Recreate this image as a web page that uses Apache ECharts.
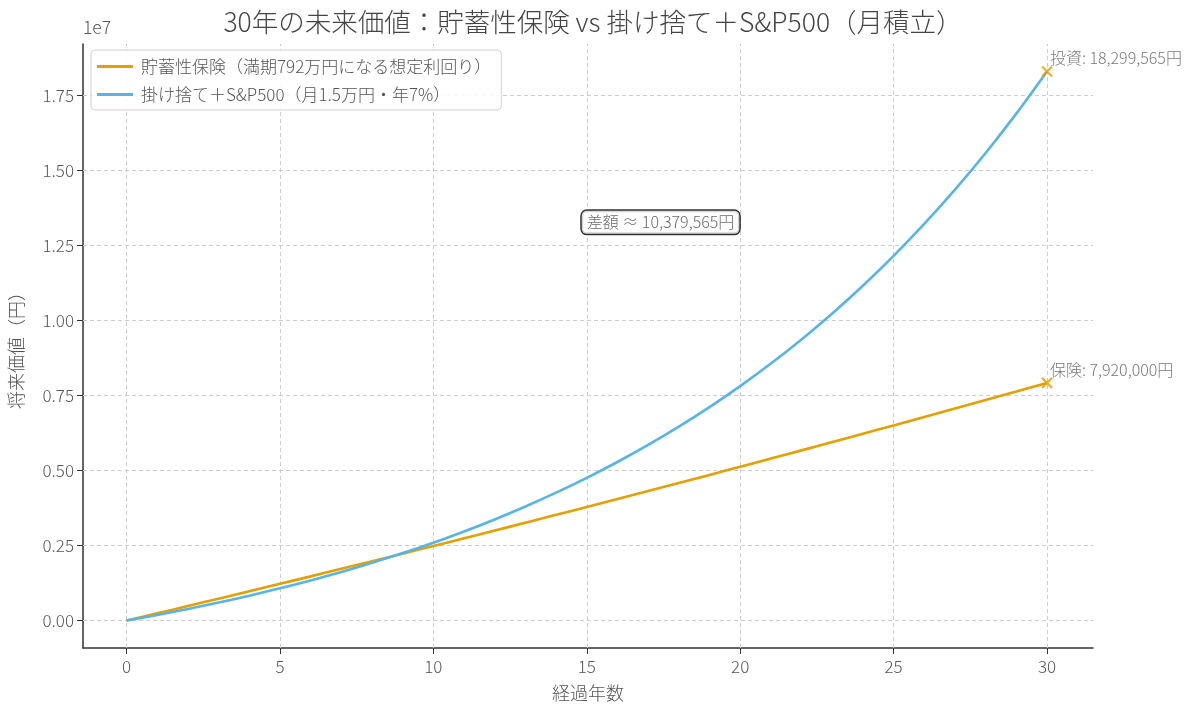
<!DOCTYPE html>
<html>
<head>
<meta charset="utf-8">
<script src="https://cdn.jsdelivr.net/npm/echarts@6/dist/echarts.min.js"></script>
<style>
  html, body { margin: 0; padding: 0; background: #fff; }
  #chart { width: 1200px; height: 715px; }
</style>
</head>
<body>
<div id="chart"></div>
<script>
// 経過年数 0..30
const years = [0, 1, 2, 3, 4, 5, 6, 7, 8, 9, 10, 11, 12, 13, 14, 15,
  16, 17, 18, 19, 20, 21, 22, 23, 24, 25, 26, 27, 28, 29, 30];

// 貯蓄性保険 (円)
const insurance = [0, 241500, 484600, 729200, 975300, 1223000, 1472300, 1723100,
  1975400, 2229300, 2484800, 2741800, 3000300, 3260400, 3522100, 3785300,
  4050000, 4316300, 4584200, 4853600, 5124500, 5397000, 5671100, 5946700,
  6223800, 6502500, 6782800, 7064600, 7347900, 7632800, 7920000];

// 掛け捨て＋S&P500 (円)
const invest = [0, 186000, 385000, 599000, 828000, 1074000, 1337000, 1620000,
  1923000, 2248000, 2596000, 2970000, 3370000, 3800000, 4261000, 4755000,
  5284000, 5852000, 6461000, 7114000, 7814000, 8565000, 9370000, 10234000,
  11159000, 12152000, 13216000, 14358000, 15582000, 16894000, 18299565];

const xTicks = [0, 5, 10, 15, 20, 25, 30];
const yTicks = [0, 2500000, 5000000, 7500000, 10000000, 12500000, 15000000, 17500000];

const endInvest = 18299565;
const endInsurance = 7920000;
const diffLabel = '差額 ≈ 10,379,565円';
const diffPos = [15, 13270000];

const ORANGE = '#E69F00';
const BLUE = '#56B4E9';
const FONT = '"Noto Sans CJK JP", "Noto Sans", sans-serif';
const W = 300;

const chart = echarts.init(document.getElementById('chart'));

const yMin = -endInvest * 0.05;
const yMax = endInvest * 1.05;

const gridLines = xTicks.map(v => ({ xAxis: v }))
  .concat(yTicks.map(v => ({ yAxis: v })));

const fmtYen = v => v.toLocaleString('en-US') + '円';

chart.setOption({
  animation: false,
  textStyle: { fontFamily: FONT, fontWeight: W },
  title: {
    text: '30年の未来価値：貯蓄性保険 vs 掛け捨て＋S&P500（月積立）',
    left: 588,
    top: 4,
    textAlign: 'center',
    textStyle: { fontSize: 26.5, fontWeight: W, color: '#444', fontFamily: FONT }
  },
  graphic: [{
    type: 'text',
    left: 83,
    top: 19,
    style: { text: '1e7', fontSize: 17.5, fill: '#555', fontFamily: FONT, fontWeight: W }
  }],
  legend: {
    orient: 'vertical',
    left: 91,
    top: 50,
    z: 20,
    padding: [8, 10, 7, 6],
    itemGap: 11,
    itemWidth: 36,
    itemHeight: 3,
    icon: 'rect',
    backgroundColor: 'rgba(255,255,255,0.85)',
    borderColor: '#d0d0d0',
    borderWidth: 1,
    borderRadius: 4,
    textStyle: { fontSize: 17, color: '#555', fontFamily: FONT, fontWeight: W, padding: [0, 0, 0, 3] },
    data: ['貯蓄性保険（満期792万円になる想定利回り）', '掛け捨て＋S&P500（月1.5万円・年7%）']
  },
  grid: { left: 83, right: 107, top: 44, bottom: 67, outerBoundsMode: 'none' },
  xAxis: {
    type: 'value',
    min: -1.42,
    max: 31.5,
    name: '経過年数',
    nameLocation: 'middle',
    nameGap: 36,
    nameTextStyle: { fontSize: 18, color: '#555', fontWeight: W },
    axisLine: { show: true, onZero: false, lineStyle: { color: '#333', width: 1.5 } },
    axisTick: { show: true, customValues: xTicks, length: 6, lineStyle: { color: '#333' } },
    axisLabel: { customValues: xTicks, fontSize: 17, color: '#555', margin: 10, fontWeight: W },
    splitLine: { show: false }
  },
  yAxis: {
    type: 'value',
    min: yMin,
    max: yMax,
    name: '将来価値（円）',
    nameLocation: 'middle',
    nameGap: 58,
    nameTextStyle: { fontSize: 18, color: '#555', fontWeight: W },
    axisLine: { show: true, onZero: false, lineStyle: { color: '#333', width: 1.5 } },
    axisTick: { show: true, customValues: yTicks, length: 6, lineStyle: { color: '#333' } },
    axisLabel: {
      customValues: yTicks,
      fontSize: 17,
      color: '#555',
      margin: 9,
      fontWeight: W,
      formatter: v => (v / 1e7).toFixed(2)
    },
    splitLine: { show: false }
  },
  series: [
    {
      name: 'grid',
      type: 'line',
      data: [],
      silent: true,
      z: 1,
      markLine: {
        silent: true,
        symbol: 'none',
        z: 1,
        label: { show: false },
        lineStyle: { type: [4, 3], color: '#cccccc', width: 1 },
        data: gridLines
      }
    },
    {
      name: '貯蓄性保険（満期792万円になる想定利回り）',
      type: 'line',
      data: years.map((y, i) => [y, insurance[i]]),
      showSymbol: false,
      symbol: 'none',
      smooth: 0.3,
      color: ORANGE,
      lineStyle: { color: ORANGE, width: 2.6 },
      z: 3
    },
    {
      name: '掛け捨て＋S&P500（月1.5万円・年7%）',
      type: 'line',
      data: years.map((y, i) => [y, invest[i]]),
      showSymbol: false,
      symbol: 'none',
      smooth: 0.3,
      color: BLUE,
      lineStyle: { color: BLUE, width: 2.6 },
      z: 3
    },
    {
      name: 'ends',
      type: 'scatter',
      symbol: 'path://M0,0L10,10M10,0L0,10',
      symbolSize: 10,
      itemStyle: { color: ORANGE, borderColor: ORANGE, borderWidth: 2.2 },
      label: {
        show: true,
        position: [9, -15],
        fontSize: 16,
        color: '#555',
        fontWeight: W,
        formatter: p => p.data.label
      },
      data: [
        { value: [30, endInvest], label: '投資: ' + fmtYen(endInvest) },
        { value: [30, endInsurance], label: '保険: ' + fmtYen(endInsurance) }
      ],
      z: 5
    },
    {
      name: 'diff',
      type: 'scatter',
      symbolSize: 0,
      data: [{ value: diffPos }],
      label: {
        show: true,
        position: 'right',
        distance: -5,
        formatter: diffLabel,
        fontSize: 16,
        color: '#444',
        fontWeight: W,
        padding: [4, 5, 3, 5],
        backgroundColor: '#fff',
        borderColor: '#000',
        borderWidth: 1.5,
        borderRadius: 5
      },
      z: 6
    }
  ]
});
</script>
</body>
</html>
